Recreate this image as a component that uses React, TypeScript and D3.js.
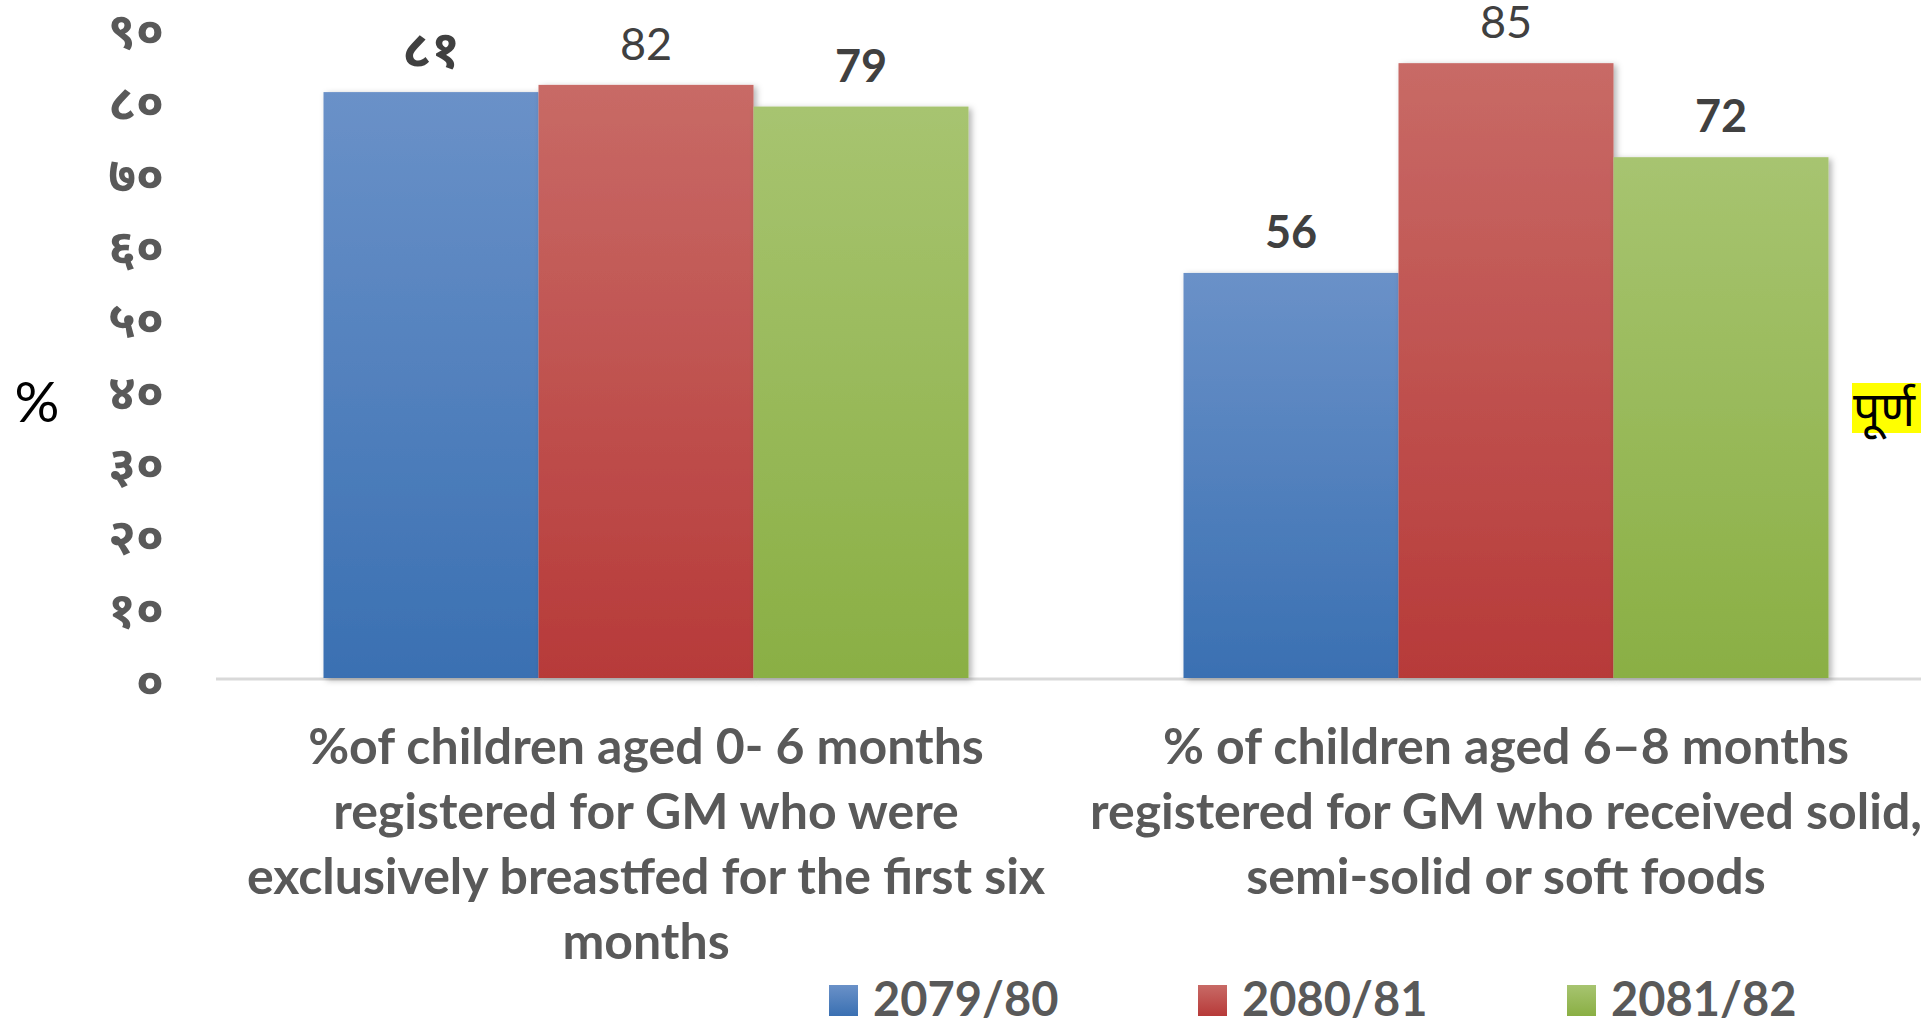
import React from "react";
import * as d3 from "d3";

// ---- data ----
const categories = ["cat1", "cat2"];
const categoryLines = [
  [
    "%of children aged 0- 6 months",
    "registered for GM who were",
    "exclusively breastfed for the first six",
    "months",
  ],
  [
    "% of children aged 6–8 months",
    "registered for GM who received solid,",
    "semi-solid or soft foods",
  ],
];
const seriesNames = ["2079/80", "2080/81", "2081/82"];
const values2079 = [81, 56];
const values2080 = [82, 85];
const values2081 = [79, 72];
const labels2079 = ["८१", "56"];
const labels2080 = ["82", "85"];
const labels2081 = ["79", "72"];
const yTicks = [0, 10, 20, 30, 40, 50, 60, 70, 80, 90];
const yTitle = "%";
const sideNote = "पूर्ण";

const devDigits = "०१२३४५६७८९";
const toDev = (n: number) =>
  String(n)
    .split("")
    .map((c) => devDigits[+c] ?? c)
    .join("");

const seriesValues = [values2079, values2080, values2081];
const seriesLabels = [labels2079, labels2080, labels2081];
const seriesBold = [true, false, true];
const gradTop = ["#6a91c8", "#c86a66", "#a7c470"];
const gradBot = ["#3a70b2", "#b73a39", "#8aaf44"];

export default function App() {
  const W = 1921;
  const H = 1023;
  const baseY = 678;
  const y = d3.scaleLinear().domain([0, 90]).range([baseY, 27]);
  const x0 = d3
    .scaleBand<string>()
    .domain(categories)
    .range([216, 1936])
    .paddingInner(0.25)
    .paddingOuter(0.125);
  const x1 = d3
    .scaleBand<string>()
    .domain(seriesNames)
    .range([0, x0.bandwidth()]);
  const font = "Lato, 'Noto Sans', sans-serif";
  const grey = "#595959";
  const labelGrey = "#404040";

  return (
    <svg
      width={W}
      height={H}
      style={{ position: "fixed", left: 0, top: 0, background: "#fff" }}
    >
      <defs>
        {seriesNames.map((s, i) => (
          <linearGradient key={s} id={`g${i}`} x1="0" y1="0" x2="0" y2="1">
            <stop offset="0" stopColor={gradTop[i]} />
            <stop offset="1" stopColor={gradBot[i]} />
          </linearGradient>
        ))}
        <filter id="sh" x="-10%" y="-10%" width="130%" height="130%">
          <feDropShadow dx="3" dy="2" stdDeviation="3" floodColor="#000" floodOpacity="0.3" />
        </filter>
      </defs>
      <rect width={W} height={H} fill="#fff" />

      {/* baseline */}
      <line x1={216} x2={W} y1={baseY + 1} y2={baseY + 1} stroke="#d9d9d9" strokeWidth={3} />

      {/* y ticks */}
      {yTicks.map((t) => (
        <text
          key={t}
          x={164}
          y={y(t) + 2}
          textAnchor="end"
          dominantBaseline="central"
          fontFamily={font}
          fontWeight="bold"
          fontSize={50}
          fill={grey}
        >
          {toDev(t)}
        </text>
      ))}
      <text
        x={37}
        y={400}
        textAnchor="middle"
        dominantBaseline="central"
        fontFamily={font}
        fontSize={56}
        fill="#000"
      >
        {yTitle}
      </text>

      {/* bars */}
      {categories.map((c, ci) => (
        <g key={c} transform={`translate(${x0(c)},0)`}>
          {seriesNames.map((s, si) => {
            const v = seriesValues[si][ci];
            return (
              <rect
                key={s}
                x={x1(s)}
                y={y(v)}
                width={x1.bandwidth()}
                height={baseY - y(v)}
                fill={`url(#g${si})`}
                filter="url(#sh)"
              />
            );
          })}
        </g>
      ))}
      {/* data labels */}
      {categories.map((c, ci) => (
        <g key={c + "l"} transform={`translate(${x0(c)},0)`}>
          {seriesNames.map((s, si) => {
            const v = seriesValues[si][ci];
            const dev = /[\u0900-\u097F]/.test(seriesLabels[si][ci]);
            return (
              <text
                key={s}
                x={(x1(s) ?? 0) + x1.bandwidth() / 2}
                y={y(v) - 25}
                textAnchor="middle"
                fontFamily={font}
                fontWeight={seriesBold[si] ? "bold" : "normal"}
                fontSize={dev ? 52 : 45}
                fill={labelGrey}
              >
                {seriesLabels[si][ci]}
              </text>
            );
          })}
        </g>
      ))}

      {/* category labels */}
      {categories.map((c, ci) => (
        <text
          key={c + "c"}
          textAnchor="middle"
          fontFamily={font}
          fontWeight="bold"
          fontSize={50}
          fill={grey}
        >
          {categoryLines[ci].map((ln, li) => (
            <tspan key={li} x={(x0(c) ?? 0) + x0.bandwidth() / 2} y={764 + li * 65}>
              {ln}
            </tspan>
          ))}
        </text>
      ))}

      {/* side note */}
      <rect x={1852} y={383} width={80} height={50} fill="#ffff00" />
      <text x={1853} y={426} fontFamily={font} fontSize={48} fill="#000">
        {sideNote}
      </text>

      {/* legend */}
      {seriesNames.map((s, i) => {
        const lx = 829 + i * 369;
        return (
          <g key={s} transform={`translate(${lx},0)`}>
            <rect x={0} y={985} width={29} height={31} fill={`url(#g${i})`} />
            <text x={44} y={1016} fontFamily={font} fontWeight="bold" fontSize={47} fill={grey}>
              {s}
            </text>
          </g>
        );
      })}
    </svg>
  );
}
